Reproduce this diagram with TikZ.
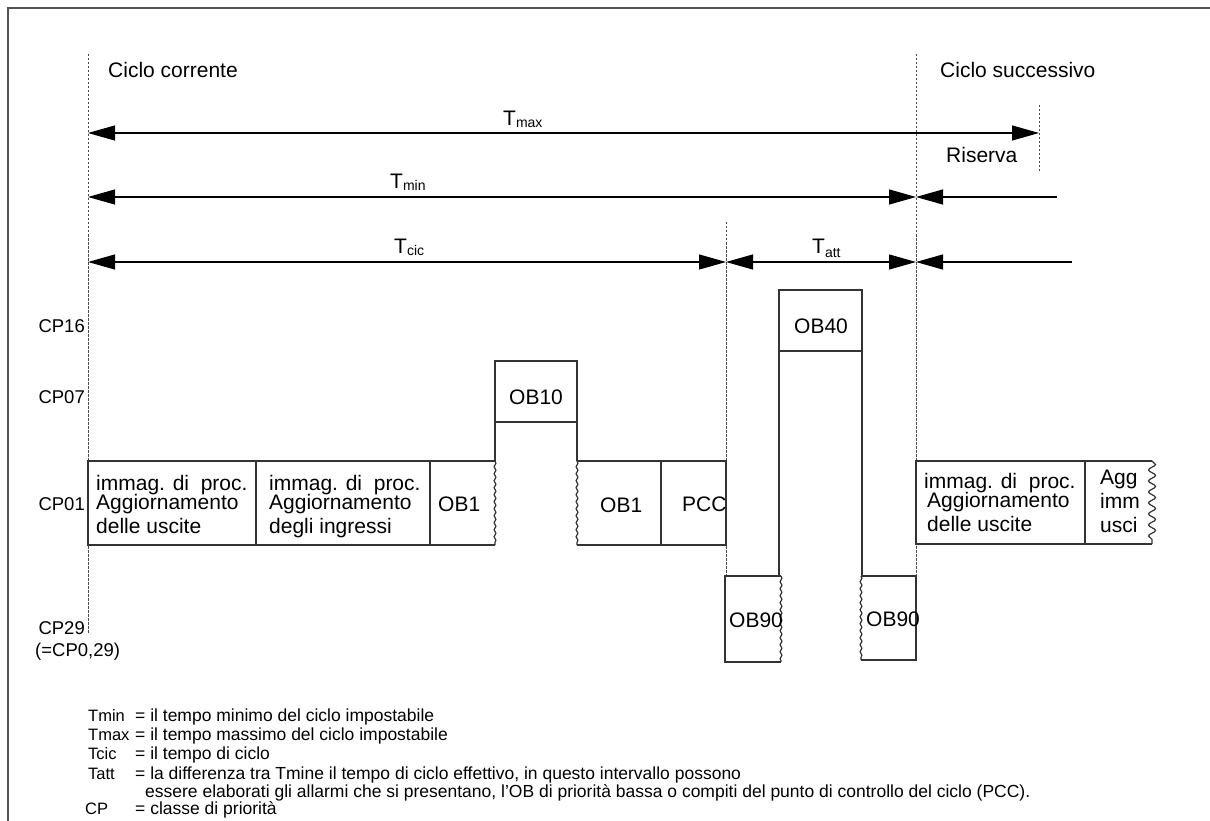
\documentclass[tikz,border=0pt]{standalone}
\usepackage{fontspec}
\setmainfont{Liberation Sans}
\usetikzlibrary{arrows.meta,decorations.pathmorphing}

\begin{document}
\begin{tikzpicture}[x=1pt,y=-1pt,
  >={Triangle[length=27pt,width=15pt]},
  frame/.style={draw=black!68,line width=2.2pt},
  marker/.style={draw=black!70,line width=0.8pt,dash pattern=on 2.5pt off 1.5pt},
  dim/.style={draw=black,line width=1.2pt},
  box/.style={draw=black!80,line width=1.2pt},
  wavy/.style={box,decorate,decoration={snake,amplitude=0.9pt,segment length=7pt}},
  ragged/.style={box,decorate,decoration={snake,amplitude=3.5pt,segment length=11pt}},
  big/.style={font=\fontsize{21}{24}\selectfont,inner sep=0pt,anchor=base west},
  cpl/.style={font=\fontsize{18.5}{21}\selectfont,inner sep=0pt,anchor=base east},
  leg/.style={font=\fontsize{17.5}{20}\selectfont,inner sep=0pt,anchor=base west},
  legkey/.style={leg,font=\fontsize{16.5}{20}\selectfont},
  multi/.style={big,align=left}
]
\useasboundingbox (0,0) rectangle (1210,821);

% outer frame (top and left edges)
\draw[frame] (8,821) -- (8,8) -- (1210,8);

% cycle boundaries
\coordinate (c0top) at (88,54);   \coordinate (c0bot) at (88,633);
\coordinate (c1top) at (726,222); \coordinate (c1bot) at (726,576);
\coordinate (c2top) at (916,54);  \coordinate (c2bot) at (916,576);
\coordinate (c3top) at (1039,105);\coordinate (c3bot) at (1039,172);
\draw[marker] (c0top) -- (c0bot);
\draw[marker] (c1top) -- (c1bot);
\draw[marker] (c2top) -- (c2bot);
\draw[marker] (c3top) -- (c3bot);

% dimension lines
\coordinate (maxL) at (88,133);  \coordinate (maxR) at (1039,133);
\coordinate (minL) at (88,197);  \coordinate (minR) at (916,197);  \coordinate (minE) at (1057,197);
\coordinate (cicL) at (88,262);  \coordinate (cicR) at (726,262);
\coordinate (attR) at (916,262); \coordinate (attE) at (1072,262);
\draw[dim,<->] (maxL) -- (maxR);
\draw[dim,<->] (minL) -- (minR);
\draw[dim,<-]  (minR) -- (minE);
\draw[dim,<->] (cicL) -- (cicR);
\draw[dim,<->] (cicR) -- (attR);
\draw[dim,<-]  (attR) -- (attE);

\node[big] (tmax) at (503,126) {T\raisebox{-2pt}{\fontsize{14}{14}\selectfont max}};
\node[big] (tmin) at (390,189) {T\raisebox{-2pt}{\fontsize{14}{14}\selectfont min}};
\node[big] (tcic) at (394,253) {T\raisebox{-2pt}{\fontsize{14}{14}\selectfont cic}};
\node[big] (tatt) at (812,254) {T\raisebox{-3pt}{\fontsize{14}{14}\selectfont att}};

\node[big] (cur)  at (108,78)  {Ciclo corrente};
\node[big] (next) at (940,78)  {Ciclo successivo};
\node[big] (res)  at (946,163) {Riserva};

% priority classes
\node[cpl] (cp16) at (85,332) {CP16};
\node[cpl] (cp07) at (85,403) {CP07};
\node[cpl] (cp01) at (85,510) {CP01};
\node[cpl] (cp29) at (85,634) {CP29};
\node[cpl,anchor=base west] (cp29b) at (35,656) {(=CP0,29)};

% CP01 row, current cycle
\draw[box] (88,461) rectangle (256,545);
\draw[box] (256,461) -- (430,461) -- (430,545) -- (256,545);
\draw[box] (430,461) -- (495,461) (430,545) -- (495,545);
\draw[wavy] (495,461) -- (495,545);
% OB10 interrupt
\draw[box] (495,461) -- (495,361) -- (577,361) -- (577,461);
\draw[box] (495,422) -- (577,422);
\draw[wavy] (577,461) -- (577,545);
\draw[box] (577,461) -- (726,461) -- (726,545) -- (577,545);
\draw[box] (661,461) -- (661,545);
% OB90 / OB40 / OB90
\draw[box] (781,576) -- (725,576) -- (725,662) -- (781,662);
\draw[wavy] (781,576) -- (781,662);
\draw[box] (779,576) -- (779,290) -- (862,290) -- (862,576);
\draw[box] (779,351) -- (862,351);
\draw[box] (861,576) -- (916,576) -- (916,660) -- (861,660);
\draw[wavy] (861,576) -- (861,660);
% CP01 row, next cycle
\draw[box] (1152,461) -- (916,461) -- (916,544) -- (1152,544);
\draw[box] (1085,461) -- (1085,544);
\draw[ragged] (1152,461) -- (1152,544);

% multi-line texts sit on the baseline of their last line
\node[multi] (out1) at (96,533) {immag. di\ \ proc.\\[-5pt]Aggiornamento\\delle uscite};
\node[multi] (in1)  at (269,533) {immag. di\ \ proc.\\[-5pt]Aggiornamento\\degli ingressi};
\node[big] (ob1a) at (438,511) {OB1};
\node[big] (ob10) at (509,404) {OB10};
\node[big] (ob1b) at (600,512) {OB1};
\node[big] (pcc)  at (682,511) {PCC};
\node[big] (ob90a) at (729,627) {OB90};
\node[big] (ob40) at (794,333) {OB40};
\node[big] (ob90b) at (866,626) {OB90};
\node[multi] (out2) at (924,531) {immag. di\ \ proc.\\[-5pt]\hspace{3pt}Aggiornamento\\\hspace{3pt}delle uscite};
\node[multi] (out3) at (1100,532) {Agg\\imm\\usci};

% legend
\node[legkey] (lk1) at (88,721) {Tmin};
\node[leg] (lv1) at (135,721) {= il tempo minimo del ciclo impostabile};
\node[legkey] (lk2) at (88,740) {Tmax};
\node[leg] (lv2) at (135,740) {= il tempo massimo del ciclo impostabile};
\node[legkey] (lk3) at (88,759) {Tcic};
\node[leg] (lv3) at (135,759) {= il tempo di ciclo};
\node[legkey] (lk4) at (88,779) {Tatt};
\node[leg] (lv4) at (135,779) {= la differenza tra Tmine il tempo di ciclo effettivo, in questo intervallo possono};
\node[leg] (lv4b) at (145,797) {essere elaborati gli allarmi che si presentano, l’OB di priorità bassa o compiti del punto di controllo del ciclo (PCC).};
\node[legkey] (lk5) at (85,814) {CP};
\node[leg] (lv5) at (135,814) {= classe di priorità};
\end{tikzpicture}
\end{document}
